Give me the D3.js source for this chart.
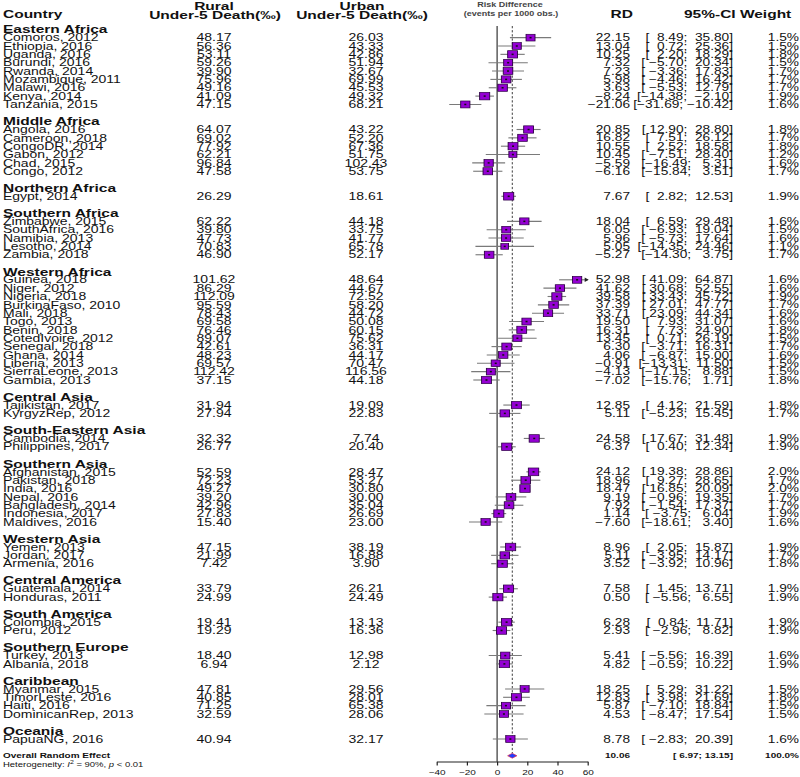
<!DOCTYPE html>
<html>
<head>
<meta charset="utf-8">
<script src="https://cdn.jsdelivr.net/npm/d3@7"></script>
<style>
body { margin: 0; background: #fff; }
svg { display: block; }
text { font-family: "Liberation Sans", Arial, sans-serif; fill: #111; }
</style>
</head>
<body>
<div id="forest"></div>
<script>
// regions and number of surveys in each
var regions = ["Eastern Africa", "Middle Africa", "Northern Africa", "Southern Africa", "Western Africa",
  "Central Asia", "South-Eastern Asia", "Southern Asia", "Western Asia", "Central America",
  "South America", "Southern Europe", "Caribbean", "Oceania"];
var regionSize = [9, 6, 1, 5, 13, 2, 2, 7, 3, 2, 2, 2, 4, 1];

var countries = ["Comoros, 2012", "Ethiopia, 2016", "Uganda, 2016", "Burundi, 2016", "Rwanda, 2014",
  "Mozambique, 2011", "Malawi, 2016", "Kenya, 2014", "Tanzania, 2015",
  "Angola, 2016", "Cameroon, 2018", "CongoDR, 2014", "Gabon, 2012", "Chad, 2015", "Congo, 2012",
  "Egypt, 2014",
  "Zimbabwe, 2015", "SouthAfrica, 2016", "Namibia, 2013", "Lesotho, 2014", "Zambia, 2018",
  "Guinea, 2018", "Niger, 2012", "Nigeria, 2018", "BurkinaFaso, 2010", "Mali, 2018", "Togo, 2013",
  "Benin, 2018", "CotedIvoire, 2012", "Senegal, 2018", "Ghana, 2014", "Liberia, 2013",
  "SierraLeone, 2013", "Gambia, 2013",
  "Tajikistan, 2017", "KyrgyzRep, 2012",
  "Cambodia, 2014", "Philippines, 2017",
  "Afghanistan, 2015", "Pakistan, 2018", "India, 2016", "Nepal, 2016", "Bangladesh, 2014",
  "Indonesia, 2017", "Maldives, 2016",
  "Yemen, 2013", "Jordan, 2017", "Armenia, 2016",
  "Guatemala, 2014", "Honduras, 2011",
  "Colombia, 2015", "Peru, 2012",
  "Turkey, 2013", "Albania, 2018",
  "Myanmar, 2015", "TimorLeste, 2016", "Haiti, 2016", "DominicanRep, 2013",
  "PapuaNG, 2016"];

var rural = [48.17, 56.36, 53.11, 59.26, 39.90, 75.96, 49.16, 41.09, 47.15,
  64.07, 69.02, 77.92, 62.21, 96.84, 47.58,
  26.29,
  62.22, 39.80, 47.73, 70.83, 46.90,
  101.62, 86.29, 112.09, 95.59, 78.43, 69.58, 76.46, 89.07, 42.61, 48.23, 69.57, 112.42, 37.15,
  31.94, 27.94,
  32.32, 26.77,
  52.59, 72.23, 49.27, 39.20, 42.96, 27.83, 15.40,
  47.15, 21.99, 7.42,
  33.79, 24.99,
  19.41, 19.29,
  18.40, 6.94,
  47.81, 40.85, 71.25, 32.59,
  40.94];

var urban = [26.03, 43.33, 42.86, 51.94, 32.67, 69.99, 45.53, 49.32, 68.21,
  43.22, 52.20, 67.36, 51.75, 102.43, 53.75,
  18.61,
  44.18, 33.75, 41.77, 65.78, 52.17,
  48.64, 44.67, 72.52, 58.20, 44.72, 50.08, 60.15, 75.62, 36.31, 44.17, 70.47, 116.56, 44.18,
  19.09, 22.83,
  7.74, 20.40,
  28.47, 53.27, 30.80, 30.00, 35.04, 26.69, 23.00,
  38.19, 16.88, 3.90,
  26.21, 24.49,
  13.13, 16.36,
  12.98, 2.12,
  29.56, 28.01, 65.38, 28.06,
  32.17];

var rd = [22.15, 13.04, 10.25, 7.32, 7.23, 5.98, 3.63, -8.24, -21.06,
  20.85, 16.82, 10.55, 10.45, -5.59, -6.16,
  7.67,
  18.04, 6.05, 5.96, 5.05, -5.27,
  52.98, 41.62, 39.58, 37.39, 33.71, 19.50, 16.31, 13.45, 6.30, 4.06, -0.91, -4.13, -7.02,
  12.85, 5.11,
  24.58, 6.37,
  24.12, 18.96, 18.47, 9.19, 7.92, 1.14, -7.60,
  8.96, 5.11, 3.52,
  7.58, 0.50,
  6.28, 2.93,
  5.41, 4.82,
  18.25, 12.83, 5.87, 4.53,
  8.78];

var ciLow = [8.49, 0.72, 2.20, -5.70, -3.36, -4.46, -5.53, -14.38, -31.69,
  12.90, 7.51, 2.52, -7.51, -16.49, -15.84,
  2.82,
  6.59, -6.93, -5.73, -14.35, -14.30,
  41.09, 30.68, 33.43, 27.01, 23.09, 7.93, 7.73, 0.71, -3.71, -6.87, -13.31, -17.15, -15.76,
  4.12, -5.23,
  17.67, 0.40,
  19.38, 9.27, 16.85, -0.96, -1.54, -3.75, -18.61,
  2.05, -3.95, -3.92,
  1.45, -5.56,
  0.84, -2.96,
  -5.56, -0.59,
  5.29, 3.98, -7.10, -8.47,
  -2.83];

var ciHigh = [35.80, 25.36, 18.29, 20.34, 17.83, 16.42, 12.79, -2.10, -10.42,
  28.80, 26.12, 18.58, 28.40, 5.31, 3.51,
  12.53,
  29.48, 19.04, 17.64, 24.46, 3.75,
  64.87, 52.55, 45.72, 47.77, 44.34, 31.07, 24.90, 26.19, 16.31, 15.00, 11.50, 8.88, 1.71,
  21.59, 15.45,
  31.48, 12.34,
  28.86, 28.65, 20.09, 19.35, 17.37, 6.04, 3.40,
  15.87, 14.17, 10.96,
  13.71, 6.55,
  11.71, 8.82,
  16.39, 10.22,
  31.22, 21.69, 18.84, 17.54,
  20.39];

var weight = [1.5, 1.5, 1.8, 1.5, 1.7, 1.7, 1.7, 1.9, 1.6,
  1.8, 1.7, 1.8, 1.2, 1.6, 1.7,
  1.9,
  1.6, 1.5, 1.6, 1.1, 1.7,
  1.6, 1.6, 1.9, 1.7, 1.6, 1.6, 1.8, 1.5, 1.7, 1.6, 1.5, 1.5, 1.8,
  1.8, 1.7,
  1.9, 1.9,
  2.0, 1.7, 2.0, 1.7, 1.7, 1.9, 1.6,
  1.9, 1.7, 1.8,
  1.9, 1.9,
  1.9, 1.9,
  1.6, 1.9,
  1.5, 1.8, 1.5, 1.5,
  1.6];

// overall random effect: estimate, lower, upper
var overallRD = [10.06, 6.97, 13.15];
var ticks = [-40, -20, 0, 20, 40, 60];

// the picture is squeezed vertically, so draw in a taller box and squash it
var width = 800, height = 777, sy = 0.75;
function Y(v) { return v / sy; }

var svg = d3.select("#forest")
  .append("svg")
    .attr("width", width)
    .attr("height", height)
    .attr("viewBox", "0 0 " + width + " " + Y(height))
    .attr("preserveAspectRatio", "none");

// build the list of rows
var rows = [], r = 0, k = 0;
regions.forEach(function(reg, i) {
  rows.push({type: "group", label: reg, row: r++});
  for (var j = 0; j < regionSize[i]; j++) {
    rows.push({type: "study", i: k++, row: r++});
  }
  r++; // blank line between groups
});
var overallRow = r, hetRow = r + 1;

var yRow = d3.scaleLinear().domain([0, 88]).range([Y(29.3), Y(29.3 + 88 * 8.35)]);
var x = d3.scaleLinear().domain([-40, 60]).range([436.7, 587.7]);
var fmt = d3.format(".2f");
function pad(s, n) { while (s.length < n) s = " " + s; return s; }

// column headers
function header(txt, xx, yy, anchor, size) {
  svg.append("text")
    .attr("x", xx).attr("y", Y(yy)).attr("dy", "0.35em")
    .attr("text-anchor", anchor || "start")
    .style("font-size", (size || 15.5) + "px")
    .style("font-weight", "bold")
    .text(txt);
}
header("Country", 3, 14);
header("Rural", 214, 5.6, "middle");
header("Under-5 Death(\u2030)", 215, 14.5, "middle");
header("Urban", 362, 5.6, "middle");
header("Under-5 Death(\u2030)", 362, 14.5, "middle");
header("RD", 633, 14, "end");
header("95%-CI Weight", 684, 14);
svg.append("text").attr("x", 510).attr("y", Y(5)).attr("dy", "0.35em")
  .attr("text-anchor", "middle").style("font-size", "9px").style("font-weight", "bold")
  .style("fill", "#444").text("Risk Difference");
svg.append("text").attr("x", 511).attr("y", Y(14)).attr("dy", "0.35em")
  .attr("text-anchor", "middle").style("font-size", "9px").style("font-weight", "bold")
  .style("fill", "#444").text("(events per 1000 obs.)");

// reference lines
svg.append("line")
  .attr("x1", x(0)).attr("x2", x(0))
  .attr("y1", Y(26)).attr("y2", Y(761.7))
  .attr("stroke", "#222").attr("stroke-width", 1.1);
svg.append("line")
  .attr("x1", x(overallRD[0])).attr("x2", x(overallRD[0]))
  .attr("y1", Y(26)).attr("y2", Y(753))
  .attr("stroke", "#222").attr("stroke-width", 1)
  .attr("stroke-dasharray", "3,2.5");

// group labels
svg.selectAll(".grp")
  .data(rows.filter(function(d) { return d.type == "group"; }))
  .enter().append("text")
    .attr("class", "grp")
    .attr("x", 3)
    .attr("y", function(d) { return yRow(d.row); })
    .attr("dy", "0.35em")
    .style("font-size", "15.5px")
    .style("font-weight", "bold")
    .text(function(d) { return d.label; });

var studies = rows.filter(function(d) { return d.type == "study"; });
var st = svg.selectAll(".study")
  .data(studies)
  .enter().append("g")
    .attr("class", "study")
    .attr("transform", function(d) { return "translate(0," + yRow(d.row) + ")"; });

function col(sel, xx, anchor, size, fn) {
  sel.append("text")
    .attr("x", xx).attr("dy", "0.35em")
    .attr("text-anchor", anchor)
    .style("font-size", size + "px")
    .style("white-space", "pre")
    .text(fn);
}
col(st, 3, "start", 14, function(d) { return countries[d.i]; });
col(st, 214, "middle", 14, function(d) { return fmt(rural[d.i]); });
col(st, 366, "middle", 14, function(d) { return fmt(urban[d.i]); });
col(st, 630, "end", 13.7, function(d) { return fmt(rd[d.i]); });
col(st, 733, "end", 13.7, function(d) {
  return "[" + pad(fmt(ciLow[d.i]), 6) + "; " + pad(fmt(ciHigh[d.i]), 6) + "]";
});
col(st, 799, "end", 13.7, function(d) { return weight[d.i].toFixed(1) + "%"; });

// confidence intervals
st.append("line")
  .attr("x1", function(d) { return x(Math.max(-40, ciLow[d.i])); })
  .attr("x2", function(d) { return x(Math.min(60, ciHigh[d.i])); })
  .attr("y1", 0).attr("y2", 0)
  .attr("stroke", "#7a7a7a")
  .attr("stroke-width", 1.5);
st.filter(function(d) { return ciHigh[d.i] > 60; })
  .append("path")
    .attr("d", function() {
      var e = x(60);
      return "M" + (e - 3) + ",-3L" + (e + 1) + ",0L" + (e - 3) + ",3Z";
    })
    .attr("fill", "#222");

// weight boxes
st.append("rect")
  .attr("x", function(d) { return x(rd[d.i]) - 3.65 * Math.sqrt(weight[d.i]); })
  .attr("y", function(d) { return -3.65 * Math.sqrt(weight[d.i]); })
  .attr("width", function(d) { return 7.3 * Math.sqrt(weight[d.i]); })
  .attr("height", function(d) { return 7.3 * Math.sqrt(weight[d.i]); })
  .attr("fill", "#9400d3")
  .attr("stroke", "#2a0040")
  .attr("stroke-width", 0.9);
st.append("rect")
  .attr("x", function(d) { return x(rd[d.i]) - 1; })
  .attr("y", -1)
  .attr("width", 2).attr("height", 2)
  .attr("fill", "#111");

// overall effect
var yo = yRow(overallRow);
svg.append("text").attr("x", 3).attr("y", yo).attr("dy", "0.35em")
  .style("font-size", "10px").style("font-weight", "bold")
  .text("Overall Random Effect");
svg.append("text").attr("x", 630).attr("y", yo).attr("dy", "0.35em")
  .attr("text-anchor", "end").style("font-size", "10px").style("font-weight", "bold")
  .text(fmt(overallRD[0]));
svg.append("text").attr("x", 733).attr("y", yo).attr("dy", "0.35em")
  .attr("text-anchor", "end").style("font-size", "10px").style("font-weight", "bold")
  .style("white-space", "pre")
  .text("[ " + fmt(overallRD[1]) + "; " + fmt(overallRD[2]) + "]");
svg.append("text").attr("x", 799).attr("y", yo).attr("dy", "0.35em")
  .attr("text-anchor", "end").style("font-size", "10px").style("font-weight", "bold")
  .text("100.0%");
svg.append("path")
  .attr("d", "M" + x(overallRD[1]) + "," + yo +
             "L" + x(overallRD[0]) + "," + (yo - 3.2) +
             "L" + x(overallRD[2]) + "," + yo +
             "L" + x(overallRD[0]) + "," + (yo + 3.2) + "Z")
  .attr("fill", "#1f3cff")
  .attr("stroke", "#e8304a")
  .attr("stroke-width", 0.8);

// heterogeneity
var het = svg.append("text").attr("x", 3).attr("y", yRow(hetRow)).attr("dy", "0.35em")
  .style("font-size", "9.5px");
het.append("tspan").text("Heterogeneity: ");
het.append("tspan").style("font-style", "italic").text("I");
het.append("tspan").attr("dy", "-0.4em").style("font-size", "7px").text("2");
het.append("tspan").attr("dy", "0.4em").text(" = 90%, ");
het.append("tspan").style("font-style", "italic").text("p");
het.append("tspan").text(" < 0.01");

// x axis
var axis = svg.append("g")
  .attr("transform", "translate(0," + Y(761.7) + ")")
  .call(d3.axisBottom(x).tickValues(ticks).tickSize(5).tickPadding(6).tickSizeOuter(0));
axis.selectAll("text")
  .style("font-size", "10px")
  .style("font-family", "'Liberation Sans', Arial, sans-serif");
axis.selectAll("line, path").attr("stroke", "#222").attr("stroke-width", 1.2);
</script>
</body>
</html>
